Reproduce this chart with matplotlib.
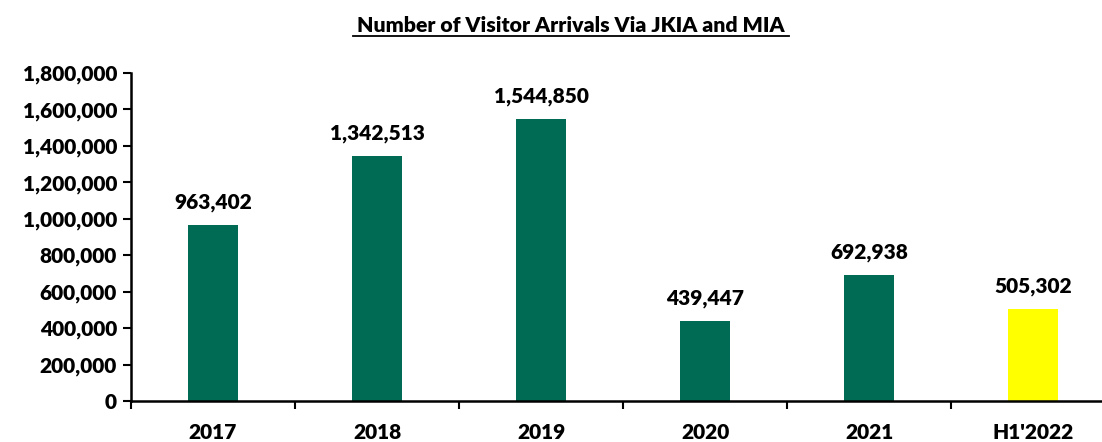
import matplotlib
matplotlib.use("Agg")
import matplotlib.pyplot as plt
from matplotlib.ticker import FuncFormatter, FixedLocator

# data
years = ["2017", "2018", "2019", "2020", "2021", "H1'2022"]
arrivals = [963402, 1342513, 1544850, 439447, 692938, 505302]
colors = ["#006B54"] * 5 + ["#FFFF00"]

plt.rcParams['font.family'] = ['Lato', 'DejaVu Sans']
plt.rcParams['font.weight'] = 'heavy'

fig = plt.figure(figsize=(11.02, 4.42), dpi=100)
ax = fig.add_axes([131 / 1102, 1 - 401 / 442, 984 / 1102, 328 / 442])

x = range(len(years))
ax.bar(x, arrivals, width=0.31, color=colors, zorder=2)

# value labels above bars
for i, v in enumerate(arrivals):
    ax.text(i, v + 72000, f"{v:,}", ha='center', va='bottom',
            fontsize=15, fontweight='heavy', color='black')

ax.set_xlim(-0.5, 5.5)
ax.set_ylim(0, 1800000)
ax.set_yticks(range(0, 1800001, 200000))
ax.yaxis.set_major_formatter(FuncFormatter(lambda v, p: f"{int(v):,}"))
ax.set_xticks(list(x))
ax.set_xticklabels(years)
ax.xaxis.set_minor_locator(FixedLocator([i - 0.5 for i in range(len(years) + 1)]))
ax.tick_params(axis='x', which='major', length=0, pad=16, labelsize=15)
ax.tick_params(axis='x', which='minor', length=6, width=1.5, direction='out')
ax.tick_params(axis='y', length=6, width=1.5, labelsize=15, pad=4)
for lbl in ax.get_xticklabels() + ax.get_yticklabels():
    lbl.set_fontweight('heavy')

for s in ['top', 'right']:
    ax.spines[s].set_visible(False)
ax.spines['left'].set_linewidth(1.8)
ax.spines['bottom'].set_linewidth(1.8)

# underlined title
fig.text(571 / 1102, 1 - 26 / 442, "Number of Visitor Arrivals Via JKIA and MIA",
         ha='center', va='center', fontsize=15.3, fontweight='heavy')
fig.add_artist(plt.Line2D([353 / 1102, 789 / 1102], [1 - 36 / 442, 1 - 36 / 442],
                          color='black', linewidth=1.3))

fig.savefig("out.png", dpi=100)
